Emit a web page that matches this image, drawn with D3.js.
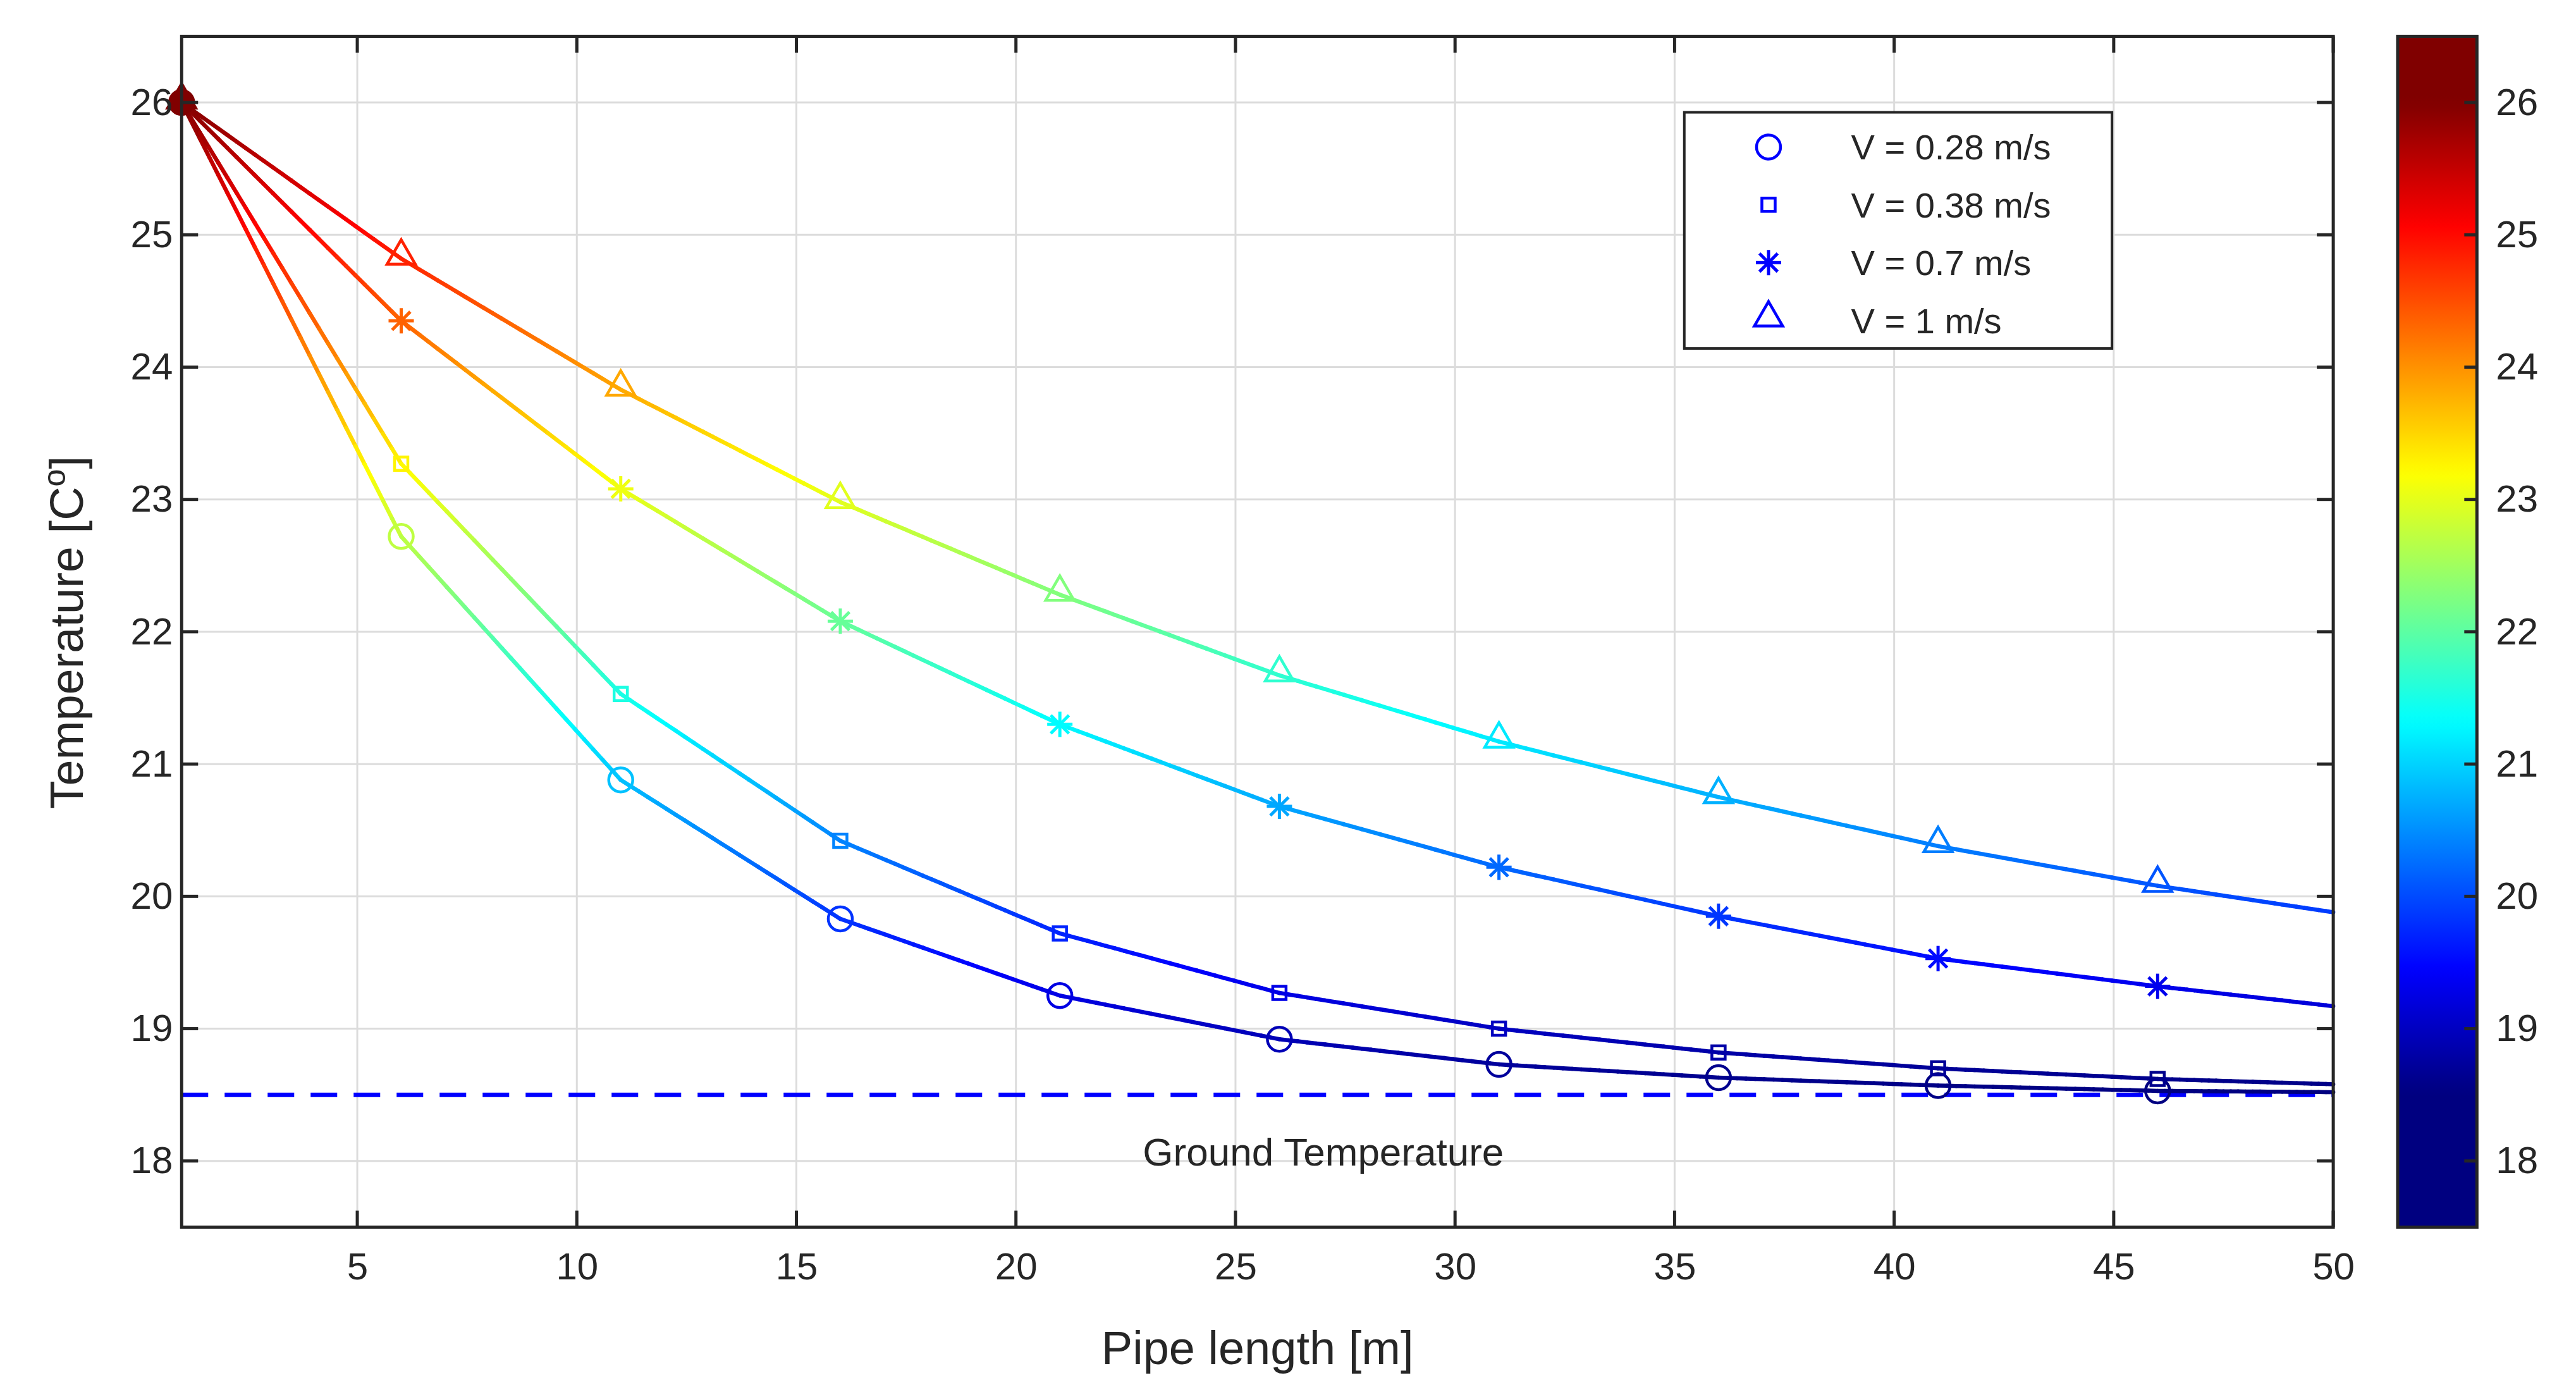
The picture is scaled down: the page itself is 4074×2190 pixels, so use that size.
<!DOCTYPE html><html><head><meta charset="utf-8"><script src="https://d3js.org/d3.v7.min.js"></script>
<style>body{margin:0;background:#fff}text{font-family:"Liberation Sans",Arial,sans-serif;fill:#262626}</style></head><body>
<script>
const xs=[1,6,11,16,21,26,31,36,41,46,50];
const vCircle=[26,22.72,20.88,19.83,19.25,18.92,18.73,18.63,18.57,18.53,18.52];
const vSquare=[26,23.27,21.53,20.42,19.72,19.27,19.0,18.82,18.7,18.62,18.58];
const vStar=[26,24.35,23.08,22.08,21.3,20.68,20.22,19.85,19.53,19.32,19.17];
const vTri=[26,24.82,23.83,22.98,22.28,21.67,21.17,20.75,20.38,20.08,19.88];
const seriesNames=["V = 0.28 m/s","V = 0.38 m/s","V = 0.7 m/s","V = 1 m/s"];
const shapes=["circle","square","star","triangle"];
const xTicks=[5,10,15,20,25,30,35,40,45,50];
const yTicks=[18,19,20,21,22,23,24,25,26];
const groundT=18.5;
const cLim=[18.52,26];
const k=4074/1560;
const W=4074,H=2190;
const svg=d3.select("body").append("svg").attr("width",W).attr("height",H);
const L=110*k,R=1413*k,T=22*k,B=743*k;
const x=d3.scaleLinear().domain([1,50]).range([L,R]);
const y=d3.scaleLinear().domain([17.5,26.5]).range([B,T]);
function jet(v){let t=(v-cLim[0])/(cLim[1]-cLim[0]);t=Math.max(0,Math.min(1,t));const c=u=>Math.max(0,Math.min(1,1.5-Math.abs(4*t-u)));
 return d3.rgb(255*c(3),255*c(2),255*c(1)).toString();}
const g=svg.append("g");
g.selectAll(".gx").data(xTicks).join("line").attr("x1",d=>x(d)).attr("x2",d=>x(d)).attr("y1",T).attr("y2",B).attr("stroke","#dcdcdc").attr("stroke-width",3);
g.selectAll(".gy").data(yTicks).join("line").attr("y1",d=>y(d)).attr("y2",d=>y(d)).attr("x1",L).attr("x2",R).attr("stroke","#dcdcdc").attr("stroke-width",3);
svg.append("line").attr("x1",L).attr("x2",R).attr("y1",y(groundT)).attr("y2",y(groundT)).attr("stroke","#0000ff").attr("stroke-width",7).attr("stroke-dasharray","42,26");
svg.append("text").attr("x",x(27)).attr("y",y(groundT)+112).attr("text-anchor","middle").attr("font-size",62).text("Ground Temperature");
const all=[vCircle,vSquare,vStar,vTri];
const sym={circle:d3.symbolCircle,square:d3.symbolSquare,triangle:d3.symbolTriangle};
function marker(sel,shape,cx,cy,col,sz){
 if(shape==="star"){const r=sz;const gg=sel.append("g").attr("transform",`translate(${cx},${cy})`);
  [[0,-r,0,r],[-r,0,r,0],[-r*.72,-r*.72,r*.72,r*.72],[-r*.72,r*.72,r*.72,-r*.72]].forEach(a=>gg.append("line").attr("x1",a[0]).attr("y1",a[1]).attr("x2",a[2]).attr("y2",a[3]).attr("stroke",col).attr("stroke-width",5));return;}
 const area={circle:Math.PI*sz*sz,square:(sz*1.5)**2,triangle:sz*sz*2.4}[shape];
 sel.append("path").attr("d",d3.symbol().type(sym[shape]).size(area)()).attr("transform",`translate(${cx},${cy+(shape==="triangle"?-4:0)})`).attr("fill","none").attr("stroke",col).attr("stroke-width",4.5);
}
const sizes={circle:19,square:14,star:20,triangle:19};
all.forEach((vals,si)=>{
 const sg=svg.append("g");
 for(let i=0;i<xs.length-1;i++){const n=24;
  for(let j=0;j<n;j++){const a=j/n,b=(j+1)/n;
   const xa=xs[i]+(xs[i+1]-xs[i])*a,xb=xs[i]+(xs[i+1]-xs[i])*b;
   const ya=vals[i]+(vals[i+1]-vals[i])*a,yb=vals[i]+(vals[i+1]-vals[i])*b;
   sg.append("line").attr("x1",x(xa)).attr("x2",x(xb)).attr("y1",y(ya)).attr("y2",y(yb)).attr("stroke",jet((ya+yb)/2)).attr("stroke-width",6.5).attr("stroke-linecap","round");}}
 xs.slice(0,10).forEach((xv,i)=>marker(sg,shapes[si],x(xv),y(vals[i]),jet(vals[i]),sizes[shapes[si]]));
});
svg.append("circle").attr("cx",x(1)).attr("cy",y(26)).attr("r",20).attr("fill",jet(26));
svg.append("rect").attr("x",L).attr("y",T).attr("width",R-L).attr("height",B-T).attr("fill","none").attr("stroke","#262626").attr("stroke-width",5);
const xa=svg.append("g").attr("transform",`translate(0,${B})`).call(d3.axisBottom(x).tickValues(xTicks).tickSize(0).tickPadding(40));
const ya=svg.append("g").attr("transform",`translate(${L},0)`).call(d3.axisLeft(y).tickValues(yTicks).tickSize(0).tickPadding(14));
[xa,ya].forEach(a=>{a.select(".domain").remove();a.selectAll("text").attr("font-size",60).attr("font-family","Liberation Sans").attr("fill","#262626");});
xTicks.forEach(t=>{svg.append("line").attr("x1",x(t)).attr("x2",x(t)).attr("y1",B).attr("y2",B-26).attr("stroke","#262626").attr("stroke-width",5);
 svg.append("line").attr("x1",x(t)).attr("x2",x(t)).attr("y1",T).attr("y2",T+26).attr("stroke","#262626").attr("stroke-width",5);});
yTicks.forEach(t=>{svg.append("line").attr("x1",L).attr("x2",L+26).attr("y1",y(t)).attr("y2",y(t)).attr("stroke","#262626").attr("stroke-width",5);
 svg.append("line").attr("x1",R).attr("x2",R-26).attr("y1",y(t)).attr("y2",y(t)).attr("stroke","#262626").attr("stroke-width",5);});
svg.append("text").attr("x",(L+R)/2).attr("y",826*k).attr("text-anchor","middle").attr("font-size",74).text("Pipe length [m]");
svg.append("text").attr("transform",`translate(${50*k},${383*k}) rotate(-90)`).attr("text-anchor","middle").attr("font-size",74).html('Temperature [C<tspan dy="-28" font-size="50">o</tspan><tspan dy="28">]</tspan>');
const lg=svg.append("g");
lg.append("rect").attr("x",1020*k).attr("y",68*k).attr("width",259*k).attr("height",143*k).attr("fill","#fff").attr("stroke","#262626").attr("stroke-width",4);
seriesNames.forEach((s,i)=>{const cy=(89+35*i)*k;
 marker(lg,shapes[i],1071*k,cy,"#0000ff",sizes[shapes[i]]);
 lg.append("text").attr("x",1121*k).attr("y",cy+20).attr("font-size",56).text(s);});
const cx0=1452*k,cw=48*k;
const defs=svg.append("defs");const gr=defs.append("linearGradient").attr("id","jet").attr("x1",0).attr("x2",0).attr("y1",1).attr("y2",0);
d3.range(0,1.0001,0.01).forEach(t=>gr.append("stop").attr("offset",t).attr("stop-color",jet(17.5+9*t)));
svg.append("rect").attr("x",cx0).attr("y",T).attr("width",cw).attr("height",B-T).attr("fill","url(#jet)").attr("stroke","#262626").attr("stroke-width",5);
const cb=svg.append("g").attr("transform",`translate(${cx0+cw},0)`).call(d3.axisRight(y).tickValues(yTicks).tickSize(0).tickPadding(30));
cb.select(".domain").remove();cb.selectAll("text").attr("font-size",60).attr("font-family","Liberation Sans").attr("fill","#262626");
yTicks.forEach(t=>svg.append("line").attr("x1",cx0+cw).attr("x2",cx0+cw-20).attr("y1",y(t)).attr("y2",y(t)).attr("stroke","#262626").attr("stroke-width",5));
</script></body></html>
